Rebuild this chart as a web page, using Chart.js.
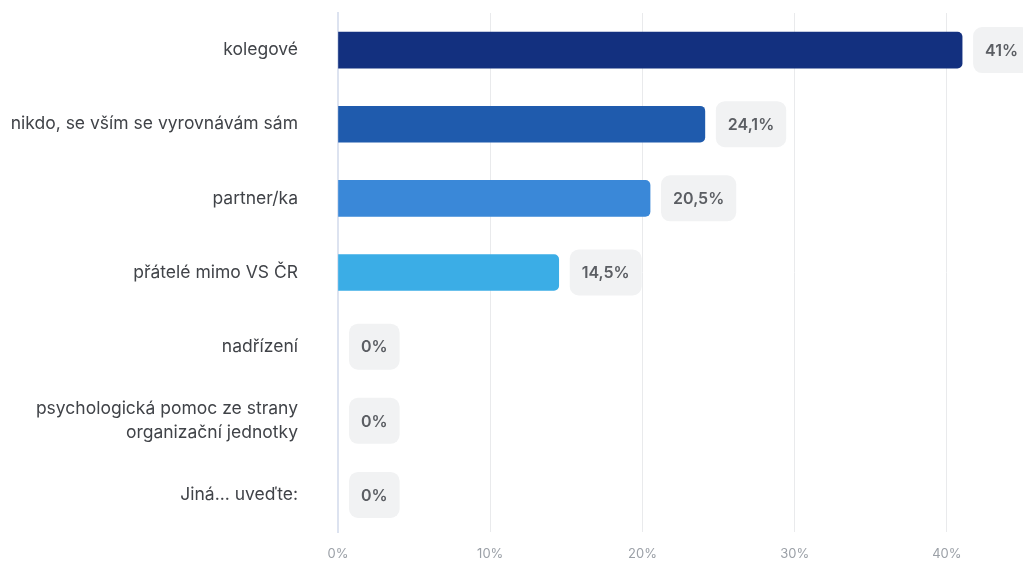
<!DOCTYPE html>
<html>
<head>
<meta charset="utf-8">
<script src="https://cdn.jsdelivr.net/npm/chart.js@4"></script>
<style>
  html, body { margin: 0; padding: 0; background: #fff; }
  #wrap { width: 1023px; height: 563px; }
</style>
</head>
<body>
<div id="wrap"><canvas id="supportChart"></canvas></div>
<script>
const categories = [
  'kolegové',
  'nikdo, se vším se vyrovnávám sám',
  'partner/ka',
  'přátelé mimo VS ČR',
  'nadřízení',
  ['psychologická pomoc ze strany', 'organizační jednotky'],
  'Jiná... uveďte:'
];
const shares = [41, 24.1, 20.5, 14.5, 0, 0, 0];
const barColors = ['#13307f', '#1f5bad', '#3a88d8', '#3badE6', 'rgba(0,0,0,0)', 'rgba(0,0,0,0)', 'rgba(0,0,0,0)'];
const xTicks = [0, 10, 20, 30, 40];

const fmt = v => String(v).replace('.', ',') + '%';

// grey rounded value boxes right of each bar
const valueBoxes = {
  id: 'valueBoxes',
  afterDatasetsDraw(chart) {
    const c = chart.ctx;
    const meta = chart.getDatasetMeta(0);
    c.save();
    c.font = '600 16px Inter, "Noto Sans", sans-serif';
    c.textAlign = 'center';
    c.textBaseline = 'middle';
    meta.data.forEach((bar, i) => {
      const txt = fmt(shares[i]);
      const w = c.measureText(txt).width + 24;
      const h = 46;
      const x = bar.x + 11;
      const y = bar.y - h / 2;
      c.fillStyle = '#f1f2f3';
      c.beginPath();
      c.roundRect(x, y, w, h, 9);
      c.fill();
      c.fillStyle = '#5b5e63';
      c.fillText(txt, x + w / 2, bar.y + 1);
    });
    c.restore();
  }
};

new Chart(document.getElementById('supportChart'), {
  type: 'bar',
  data: {
    labels: categories,
    datasets: [{
      data: shares,
      backgroundColor: barColors,
      borderRadius: { topRight: 5, bottomRight: 5, topLeft: 0, bottomLeft: 0 },
      borderSkipped: 'start',
      barThickness: 36
    }]
  },
  options: {
    indexAxis: 'y',
    responsive: true,
    maintainAspectRatio: false,
    animation: false,
    layout: { padding: { top: 13, right: 0, left: 0, bottom: 0 } },
    plugins: {
      legend: { display: false },
      tooltip: { enabled: false }
    },
    scales: {
      x: {
        min: 0,
        max: 45,
        afterBuildTicks: axis => { axis.ticks = xTicks.map(v => ({ value: v })); },
        afterFit: axis => { axis.height = 31; },
        grid: { color: '#e9eaec', drawTicks: false },
        border: { display: false },
        ticks: {
          padding: 14,
          color: '#9ba0a7',
          font: { family: 'Inter, "Noto Sans", sans-serif', size: 13 },
          callback: v => v + '%'
        }
      },
      y: {
        afterFit: axis => {
          axis.width = 338;
          axis.paddingTop = 0;
          axis.paddingBottom = 0;
        },
        grid: { display: false, drawTicks: false },
        border: { display: true, color: '#dde3f0', width: 2 },
        ticks: {
          padding: 40,
          color: '#404348',
          font: { family: 'Inter, "Noto Sans", sans-serif', size: 17.5, lineHeight: 1.37 }
        }
      }
    }
  },
  plugins: [valueBoxes]
});
</script>
</body>
</html>
